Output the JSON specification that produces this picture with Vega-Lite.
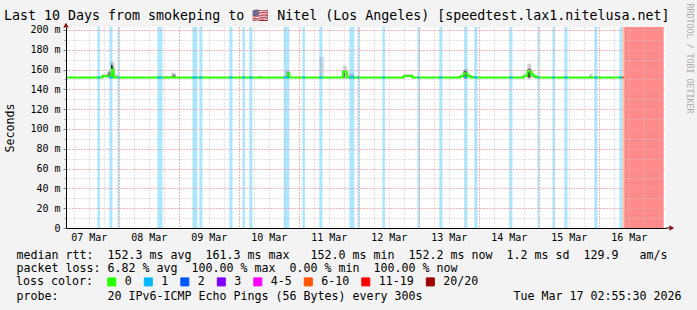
{
  "$schema": "https://vega.github.io/schema/vega-lite/v6.json",
  "width": 600,
  "height": 201,
  "autosize": {"type": "none"},
  "padding": {"left": 66, "top": 27, "right": 31, "bottom": 82},
  "background": "#f3f3f3",
  "config": {"view": {"fill": "white", "stroke": null}},
  "title": {
    "text": "Last 10 Days from smokeping to \ud83c\uddfa\ud83c\uddf8 Nitel (Los Angeles) [speedtest.lax1.nitelusa.net]",
    "anchor": "start", "frame": "group", "font": "DejaVu Sans Mono", "fontSize": 13.3,
    "fontWeight": "normal", "color": "#000", "dx": -62, "dy": 21, "offset": 2
  },
  "datasets": {
    "loss": [
      {"start": "2026-03-07T15:30:00Z", "end": "2026-03-07T16:30:00Z", "loss": "1"},
      {"start": "2026-03-07T20:15:00Z", "end": "2026-03-07T21:30:00Z", "loss": "1"},
      {"start": "2026-03-07T23:30:00Z", "end": "2026-03-08T00:15:00Z", "loss": "1"},
      {"start": "2026-03-08T15:30:00Z", "end": "2026-03-08T17:30:00Z", "loss": "1"},
      {"start": "2026-03-09T05:30:00Z", "end": "2026-03-09T07:30:00Z", "loss": "1"},
      {"start": "2026-03-09T08:15:00Z", "end": "2026-03-09T09:30:00Z", "loss": "1"},
      {"start": "2026-03-09T20:15:00Z", "end": "2026-03-09T21:30:00Z", "loss": "1"},
      {"start": "2026-03-10T01:30:00Z", "end": "2026-03-10T02:30:00Z", "loss": "1"},
      {"start": "2026-03-10T04:15:00Z", "end": "2026-03-10T05:30:00Z", "loss": "1"},
      {"start": "2026-03-10T18:00:00Z", "end": "2026-03-10T20:15:00Z", "loss": "1"},
      {"start": "2026-03-11T01:30:00Z", "end": "2026-03-11T02:30:00Z", "loss": "1"},
      {"start": "2026-03-11T08:15:00Z", "end": "2026-03-11T09:30:00Z", "loss": "1"},
      {"start": "2026-03-11T20:15:00Z", "end": "2026-03-11T22:15:00Z", "loss": "1"},
      {"start": "2026-03-11T23:30:00Z", "end": "2026-03-12T00:15:00Z", "loss": "1"},
      {"start": "2026-03-12T09:30:00Z", "end": "2026-03-12T10:30:00Z", "loss": "1"},
      {"start": "2026-03-12T23:30:00Z", "end": "2026-03-13T00:30:00Z", "loss": "1"},
      {"start": "2026-03-13T08:15:00Z", "end": "2026-03-13T09:30:00Z", "loss": "1"},
      {"start": "2026-03-13T18:15:00Z", "end": "2026-03-13T19:30:00Z", "loss": "1"},
      {"start": "2026-03-13T22:15:00Z", "end": "2026-03-13T23:30:00Z", "loss": "1"},
      {"start": "2026-03-14T12:15:00Z", "end": "2026-03-14T13:30:00Z", "loss": "1"},
      {"start": "2026-03-14T23:30:00Z", "end": "2026-03-15T00:15:00Z", "loss": "1"},
      {"start": "2026-03-15T05:30:00Z", "end": "2026-03-15T06:30:00Z", "loss": "1"},
      {"start": "2026-03-15T10:15:00Z", "end": "2026-03-15T11:30:00Z", "loss": "1"},
      {"start": "2026-03-15T22:15:00Z", "end": "2026-03-15T23:30:00Z", "loss": "1"},
      {"start": "2026-03-16T08:15:00Z", "end": "2026-03-16T09:30:00Z", "loss": "1"},
      {"start": "2026-03-16T09:30:00Z", "end": "2026-03-16T10:15:00Z", "loss": "6-10"},
      {"start": "2026-03-16T10:15:00Z", "end": "2026-03-17T02:00:00Z", "loss": "11-19"}
    ],
    "smoke": [
      {"start": "2026-03-07T17:30:00Z", "end": "2026-03-07T23:30:00Z", "lo": 152, "hi": 155.5, "shade": "light"},
      {"start": "2026-03-07T19:30:00Z", "end": "2026-03-07T20:45:00Z", "lo": 152, "hi": 158, "shade": "mid"},
      {"start": "2026-03-07T20:45:00Z", "end": "2026-03-07T22:15:00Z", "lo": 151, "hi": 168, "shade": "light"},
      {"start": "2026-03-07T21:00:00Z", "end": "2026-03-07T22:00:00Z", "lo": 152, "hi": 163, "shade": "mid"},
      {"start": "2026-03-07T21:00:00Z", "end": "2026-03-07T21:30:00Z", "lo": 152, "hi": 165, "shade": "dark"},
      {"start": "2026-03-08T18:00:00Z", "end": "2026-03-08T21:00:00Z", "lo": 152, "hi": 153.5, "shade": "light"},
      {"start": "2026-03-08T21:00:00Z", "end": "2026-03-08T22:45:00Z", "lo": 152, "hi": 157, "shade": "light"},
      {"start": "2026-03-08T21:30:00Z", "end": "2026-03-08T22:45:00Z", "lo": 152, "hi": 155, "shade": "mid"},
      {"start": "2026-03-10T08:00:00Z", "end": "2026-03-10T09:15:00Z", "lo": 152, "hi": 154, "shade": "light"},
      {"start": "2026-03-10T18:45:00Z", "end": "2026-03-10T20:15:00Z", "lo": 152, "hi": 159, "shade": "light"},
      {"start": "2026-03-10T19:30:00Z", "end": "2026-03-10T20:15:00Z", "lo": 152, "hi": 157, "shade": "dark"},
      {"start": "2026-03-11T08:15:00Z", "end": "2026-03-11T10:15:00Z", "lo": 153, "hi": 173, "shade": "faint"},
      {"start": "2026-03-11T17:45:00Z", "end": "2026-03-11T19:15:00Z", "lo": 151, "hi": 164, "shade": "light"},
      {"start": "2026-03-11T17:45:00Z", "end": "2026-03-11T18:30:00Z", "lo": 152, "hi": 159, "shade": "dark"},
      {"start": "2026-03-11T19:15:00Z", "end": "2026-03-11T22:15:00Z", "lo": 152, "hi": 156, "shade": "light"},
      {"start": "2026-03-12T18:00:00Z", "end": "2026-03-12T21:30:00Z", "lo": 152, "hi": 155.5, "shade": "light"},
      {"start": "2026-03-13T16:30:00Z", "end": "2026-03-13T18:00:00Z", "lo": 152, "hi": 155, "shade": "light"},
      {"start": "2026-03-13T18:00:00Z", "end": "2026-03-13T19:30:00Z", "lo": 151, "hi": 160, "shade": "mid"},
      {"start": "2026-03-13T18:00:00Z", "end": "2026-03-13T18:45:00Z", "lo": 152, "hi": 158, "shade": "dark"},
      {"start": "2026-03-13T19:30:00Z", "end": "2026-03-13T20:45:00Z", "lo": 152, "hi": 156, "shade": "light"},
      {"start": "2026-03-13T20:45:00Z", "end": "2026-03-13T22:15:00Z", "lo": 151.5, "hi": 153, "shade": "dark"},
      {"start": "2026-03-14T18:00:00Z", "end": "2026-03-14T19:30:00Z", "lo": 152, "hi": 156, "shade": "light"},
      {"start": "2026-03-14T19:30:00Z", "end": "2026-03-14T21:00:00Z", "lo": 150, "hi": 166, "shade": "light"},
      {"start": "2026-03-14T19:30:00Z", "end": "2026-03-14T21:00:00Z", "lo": 152, "hi": 161, "shade": "mid"},
      {"start": "2026-03-14T19:45:00Z", "end": "2026-03-14T20:15:00Z", "lo": 152, "hi": 158, "shade": "dark"},
      {"start": "2026-03-14T21:00:00Z", "end": "2026-03-14T22:00:00Z", "lo": 152, "hi": 159, "shade": "light"},
      {"start": "2026-03-14T22:00:00Z", "end": "2026-03-14T23:15:00Z", "lo": 152, "hi": 154.5, "shade": "light"},
      {"start": "2026-03-14T22:30:00Z", "end": "2026-03-14T23:15:00Z", "lo": 151.5, "hi": 153, "shade": "dark"},
      {"start": "2026-03-15T20:15:00Z", "end": "2026-03-15T21:30:00Z", "lo": 152, "hi": 156, "shade": "light"},
      {"start": "2026-03-15T20:30:00Z", "end": "2026-03-15T21:00:00Z", "lo": 151.5, "hi": 153, "shade": "dark"}
    ],
    "median": [
      {"t": "2026-03-07T02:55:30Z", "ms": 152},
      {"t": "2026-03-07T17:30:00Z", "ms": 153.5},
      {"t": "2026-03-07T19:30:00Z", "ms": 153},
      {"t": "2026-03-07T21:15:00Z", "ms": 160},
      {"t": "2026-03-07T22:00:00Z", "ms": 152},
      {"t": "2026-03-10T19:45:00Z", "ms": 156},
      {"t": "2026-03-10T20:15:00Z", "ms": 152},
      {"t": "2026-03-11T17:45:00Z", "ms": 158},
      {"t": "2026-03-11T19:15:00Z", "ms": 152},
      {"t": "2026-03-12T18:00:00Z", "ms": 153.5},
      {"t": "2026-03-12T21:30:00Z", "ms": 152},
      {"t": "2026-03-13T16:30:00Z", "ms": 153},
      {"t": "2026-03-13T18:00:00Z", "ms": 156},
      {"t": "2026-03-13T19:30:00Z", "ms": 153.5},
      {"t": "2026-03-13T20:45:00Z", "ms": 152},
      {"t": "2026-03-14T18:00:00Z", "ms": 153.5},
      {"t": "2026-03-14T19:30:00Z", "ms": 158},
      {"t": "2026-03-14T21:00:00Z", "ms": 155},
      {"t": "2026-03-14T22:00:00Z", "ms": 153},
      {"t": "2026-03-14T23:15:00Z", "ms": 152},
      {"t": "2026-03-16T09:30:00Z", "ms": 152}
    ]
  },
  "layer": [
    {
      "data": {"name": "loss"},
      "transform": [{"filter": "datum.loss != '11-19'"}],
      "mark": {"type": "rect", "opacity": 0.33},
      "encoding": {
        "x": {"field": "start", "type": "temporal",
          "scale": {"type": "utc", "domain": [1772852130000, 1773716130000]},
          "axis": {"orient": "bottom",
            "values": [1772884800000, 1772971200000, 1773057600000, 1773144000000, 1773230400000, 1773316800000, 1773403200000, 1773489600000, 1773576000000, 1773662400000],
            "format": "%d %b", "grid": false, "ticks": false, "domain": true, "domainColor": "#000",
            "labelFont": "DejaVu Sans Mono", "labelFontSize": 10, "labelColor": "#000", "labelPadding": 4,
            "labelFlush": false, "labelOverlap": false,
            "title": [
              "median rtt:\u00a0\u00a0152.3 ms avg\u00a0\u00a0161.3 ms max\u00a0\u00a0\u00a0152.0 ms min\u00a0\u00a0152.2 ms now\u00a0\u00a01.2 ms sd\u00a0\u00a0129.9\u00a0\u00a0\u00a0am/s",
              "packet loss: 6.82 % avg\u00a0\u00a0100.00 % max\u00a0\u00a00.00 % min\u00a0\u00a0100.00 % now"
            ],
            "titleFont": "DejaVu Sans Mono", "titleFontSize": 11.63, "titleFontWeight": "normal", "titleColor": "#000",
            "titleAnchor": "start", "titleAlign": "left", "titleBaseline": "alphabetic", "titleLineHeight": 13.5,
            "titleX": -50, "titleY": 30, "zindex": 1}},
        "x2": {"field": "end"},
        "y": {"datum": 0, "type": "quantitative", "scale": {"domain": [0, 203], "nice": false},
          "axis": {"orient": "right", "labels": false, "ticks": false, "domain": false, "grid": false,
            "title": "RRDTOOL / TOBI OETIKER", "titleFont": "DejaVu Sans Mono", "titleFontSize": 8.3,
            "titleFontWeight": "normal", "titleColor": "#aaaaaa", "titleAngle": 90, "titleX": 22, "titleY": 31,
            "titleAlign": "center", "titleBaseline": "middle"}},
        "y2": {"datum": 203},
        "color": {"field": "loss", "type": "nominal",
          "scale": {"domain": ["0", "1", "2", "3", "4-5", "6-10", "11-19", "20/20"],
            "range": ["#26ff00", "#00b8ff", "#0059ff", "#7e00ff", "#ff00ff", "#ff5500", "#ff0000", "#a00000"]},
          "legend": {"orient": "none", "legendX": -50, "legendY": 249, "direction": "horizontal",
            "title": "loss color:", "titleOrient": "left", "titleFont": "DejaVu Sans Mono", "titleFontSize": 11.63,
            "titleFontWeight": "normal", "titleColor": "#000", "titlePadding": 13,
            "labelFont": "DejaVu Sans Mono", "labelFontSize": 11.63, "labelColor": "#000", "labelOffset": 7,
            "columnPadding": 9.5, "symbolType": "square", "symbolSize": 64, "symbolStrokeColor": "#000",
            "symbolStrokeWidth": 1, "symbolOpacity": 1}}
      }
    },
    {
      "data": {"name": "loss"},
      "transform": [{"filter": "datum.loss == '11-19'"}],
      "mark": {"type": "rect", "opacity": 0.46},
      "encoding": {
        "x": {"field": "start", "type": "temporal", "axis": null,
          "scale": {"type": "utc", "domain": [1772852130000, 1773716130000]}},
        "x2": {"field": "end"},
        "y": {"datum": 0, "type": "quantitative", "scale": {"domain": [0, 203], "nice": false}, "axis": null},
        "y2": {"datum": 203},
        "color": {"field": "loss", "type": "nominal", "legend": null}
      }
    },
    {
      "data": {"name": "smoke"},
      "mark": {"type": "rect", "color": "#000"},
      "encoding": {
        "x": {"field": "start", "type": "temporal",
          "scale": {"type": "utc", "domain": [1772852130000, 1773716130000]},
          "axis": {"orient": "bottom",
            "values": [1772863200000, 1772884800000, 1772906400000, 1772928000000, 1772949600000, 1772971200000, 1772992800000, 1773014400000, 1773036000000, 1773057600000, 1773079200000, 1773100800000, 1773122400000, 1773144000000, 1773165600000, 1773187200000, 1773208800000, 1773230400000, 1773252000000, 1773273600000, 1773295200000, 1773316800000, 1773338400000, 1773360000000, 1773381600000, 1773403200000, 1773424800000, 1773446400000, 1773468000000, 1773489600000, 1773511200000, 1773532800000, 1773554400000, 1773576000000, 1773597600000, 1773619200000, 1773640800000, 1773662400000, 1773684000000, 1773705600000],
            "grid": true, "gridColor": "#c4c4c4",
            "gridDash": [1, 2], "gridOpacity": 1, "labels": false, "ticks": false, "domain": false, "title": null, "zindex": 1}},
        "x2": {"field": "end"},
        "y": {"field": "lo", "type": "quantitative", "scale": {"domain": [0, 203], "nice": false},
          "axis": {"orient": "left", "values": [0, 10, 20, 30, 40, 50, 60, 70, 80, 90, 100, 110, 120, 130, 140, 150, 160, 170, 180, 190, 200],
            "grid": true, "gridColor": "#c4c4c4", "gridDash": [1, 2], "gridOpacity": 1, "labels": false,
            "ticks": true, "tickSize": 2, "tickColor": "#a0a0a0", "domain": false, "title": null, "zindex": 1}},
        "y2": {"field": "hi"},
        "opacity": {"field": "shade", "type": "nominal", "legend": null,
          "scale": {"type": "ordinal", "domain": ["faint", "light", "mid", "dark"], "range": [0.1, 0.18, 0.4, 0.85]}}
      }
    },
    {
      "data": {"name": "median"},
      "mark": {"type": "line", "color": "#26ff00", "strokeWidth": 2, "interpolate": "step-after"},
      "encoding": {
        "x": {"field": "t", "type": "temporal",
          "scale": {"type": "utc", "domain": [1772852130000, 1773716130000]},
          "axis": {"orient": "bottom",
            "values": [1772928000000, 1773014400000, 1773100800000, 1773187200000, 1773273600000, 1773360000000, 1773446400000, 1773532800000, 1773619200000, 1773705600000],
            "grid": true, "gridColor": "#ff8c8c",
            "gridDash": [1, 2], "gridOpacity": 1, "labels": false, "ticks": false, "domain": false,
            "title": "probe:\u00a0\u00a0\u00a0\u00a0\u00a0\u00a0\u00a020 IPv6-ICMP Echo Pings (56 Bytes) every 300s\u00a0\u00a0\u00a0\u00a0\u00a0\u00a0\u00a0\u00a0\u00a0\u00a0\u00a0\u00a0\u00a0Tue Mar 17 02:55:30 2026",
            "titleFont": "DejaVu Sans Mono", "titleFontSize": 11.63, "titleFontWeight": "normal", "titleColor": "#000",
            "titleAnchor": "start", "titleAlign": "left", "titleBaseline": "alphabetic",
            "titleX": -50, "titleY": 71.5, "zindex": 1}},
        "y": {"field": "ms", "type": "quantitative", "scale": {"domain": [0, 203], "nice": false},
          "axis": {"orient": "left", "values": [0, 20, 40, 60, 80, 100, 120, 140, 160, 180, 200],
            "grid": true, "gridColor": "#ff8c8c", "gridDash": [1, 2], "gridOpacity": 1,
            "labelExpr": "datum.value == 0 ? '0' : datum.value + ' m'",
            "labelFont": "DejaVu Sans Mono", "labelFontSize": 10, "labelColor": "#000", "labelPadding": 3,
            "ticks": true, "tickSize": 3, "tickColor": "#808080", "domain": true, "domainColor": "#000",
            "title": "Seconds", "titleFont": "DejaVu Sans Mono", "titleFontSize": 11.63, "titleFontWeight": "normal",
            "titleColor": "#000", "titleX": -56, "titleY": 100.5, "titleAngle": 270, "titleAlign": "center",
            "titleBaseline": "middle", "zindex": 1}}
      }
    },
    {
      "data": {"name": "loss"},
      "transform": [{"filter": "datum.loss == '1' || datum.loss == '6-10'"}],
      "mark": {"type": "rule", "strokeWidth": 2},
      "encoding": {
        "x": {"field": "start", "type": "temporal", "axis": null,
          "scale": {"type": "utc", "domain": [1772852130000, 1773716130000]}},
        "x2": {"field": "end"},
        "y": {"datum": 152, "type": "quantitative", "scale": {"domain": [0, 203], "nice": false}, "axis": null},
        "color": {"field": "loss", "type": "nominal", "legend": null}
      }
    },
    {
      "data": {"values": [{}]},
      "mark": {"type": "rule", "color": "#000", "strokeWidth": 1},
      "encoding": {
        "x": {"datum": 1773716130000, "type": "temporal", "axis": null,
          "scale": {"type": "utc", "domain": [1772852130000, 1773716130000]}},
        "x2": {"datum": 1773722400000},
        "y": {"datum": 0, "type": "quantitative", "scale": {"domain": [0, 203], "nice": false}, "axis": null}
      }
    },
    {
      "data": {"values": [{}]},
      "mark": {"type": "point", "shape": "triangle-right", "filled": true, "size": 30, "color": "#8b1010", "opacity": 1},
      "encoding": {
        "x": {"datum": 1773724500000, "type": "temporal", "axis": null,
          "scale": {"type": "utc", "domain": [1772852130000, 1773716130000]}},
        "y": {"datum": 0, "type": "quantitative", "scale": {"domain": [0, 203], "nice": false}, "axis": null}
      }
    },
    {
      "data": {"values": [{}]},
      "mark": {"type": "point", "shape": "triangle-up", "filled": true, "size": 30, "color": "#8b1010", "opacity": 1},
      "encoding": {
        "x": {"datum": 1772852130000, "type": "temporal", "axis": null,
          "scale": {"type": "utc", "domain": [1772852130000, 1773716130000]}},
        "y": {"datum": 205, "type": "quantitative", "scale": {"domain": [0, 203], "nice": false}, "axis": null}
      }
    }
  ],
  "resolve": {"axis": {"x": "independent", "y": "independent"}}
}
